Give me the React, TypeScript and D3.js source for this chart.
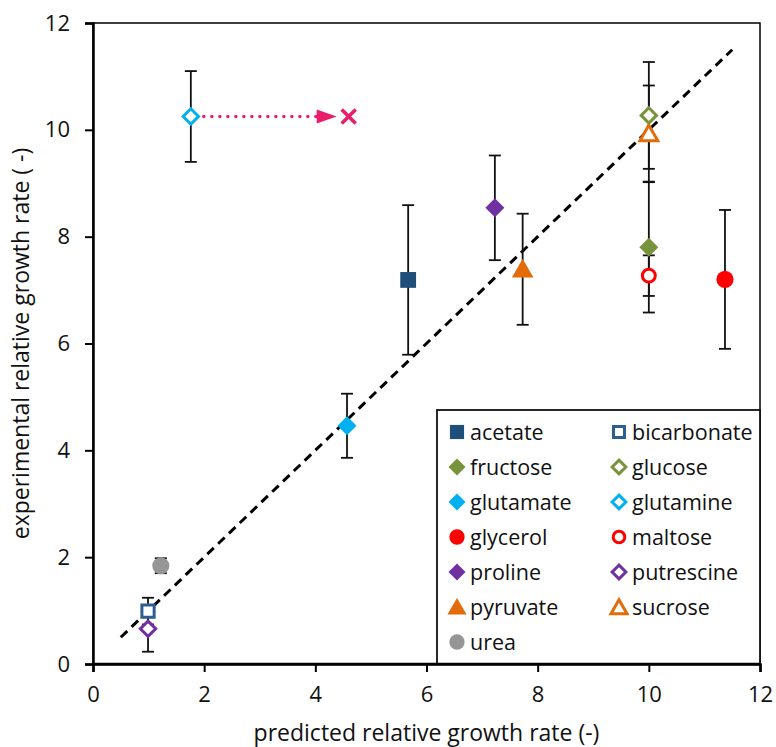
import React, { useEffect, useRef } from 'react';
import * as d3 from 'd3';

// carbon / nitrogen sources, in legend order
const sources = ['acetate', 'bicarbonate', 'fructose', 'glucose', 'glutamate', 'glutamine', 'glycerol', 'maltose', 'proline', 'putrescine', 'pyruvate', 'sucrose', 'urea'];
const predicted = [5.67, 0.99, 10.0, 10.0, 4.57, 1.76, 11.37, 10.0, 7.23, 0.99, 7.73, 10.0, 1.22];
const experimental = [7.19, 0.99, 7.8, 10.27, 4.46, 10.25, 7.2, 7.27, 8.54, 0.66, 7.39, 9.93, 1.84];
const errors = [1.4, 0.25, 1.22, 1.0, 0.6, 0.85, 1.3, 0.38, 0.98, 0.43, 1.04, 0.9, 0.14];
const shapes = ['square', 'square', 'diamond', 'diamond', 'diamond', 'diamond', 'circle', 'circle', 'diamond', 'diamond', 'triangle', 'triangle', 'circle'];
const filled = [true, false, true, false, true, false, true, false, true, false, true, false, true];
const colors = ['#1F4E79', '#2E5E8E', '#77933C', '#77933C', '#00B0F0', '#00B0F0', '#FF0000', '#FF0000', '#7030A0', '#7030A0', '#E36C09', '#E36C09', '#969696'];

// glutamine prediction after correction
const correctedGlutamine = { x: 4.6, y: 10.25 };
const parityLine = [0.5, 11.5];
const xTicks = [0, 2, 4, 6, 8, 10, 12];
const yTicks = [0, 2, 4, 6, 8, 10, 12];

const symbolFor = (shape: string) => {
  if (shape === 'square') return d3.symbolSquare;
  if (shape === 'circle') return d3.symbolCircle;
  if (shape === 'triangle') return d3.symbolTriangle;
  return d3.symbolDiamond2;
};
const sizeFor = (shape: string, isFilled: boolean) => {
  if (shape === 'square') return isFilled ? 250 : 150;
  if (shape === 'circle') return isFilled ? 230 : 130;
  if (shape === 'triangle') return isFilled ? 200 : 140;
  return isFilled ? 230 : 150;
};

const App = () => {
  const ref = useRef<SVGSVGElement | null>(null);

  useEffect(() => {
    if (!ref.current) return;
    document.body.style.margin = '0';
    const svg = d3.select(ref.current);
    svg.selectAll('*').remove();

    const left = 93, right = 760, top = 23, bottom = 664;
    const font = "'Open Sans', 'Noto Sans', sans-serif";

    const x = d3.scaleLinear().domain([0, 12]).range([left, right]);
    const y = d3.scaleLinear().domain([0, 12]).range([bottom, top]);

    svg.append('rect').attr('width', 776).attr('height', 747).attr('fill', '#fff');

    // frame
    svg
      .append('rect')
      .attr('x', left)
      .attr('y', top)
      .attr('width', right - left)
      .attr('height', bottom - top)
      .attr('fill', 'none')
      .attr('stroke', '#000')
      .attr('stroke-width', 1.5);

    // y axis
    const yAxis = svg
      .append('g')
      .attr('transform', `translate(${left},0)`)
      .call(d3.axisLeft(y).tickValues(yTicks).tickSize(8).tickPadding(15).tickFormat(d3.format('d')));
    yAxis.select('.domain').attr('stroke-width', 2.5);
    yAxis.selectAll('.tick line').attr('stroke-width', 2);
    yAxis.selectAll('text').style('font-size', '22px').style('font-family', font).attr('fill', '#111');

    // x axis
    const xAxis = svg
      .append('g')
      .attr('transform', `translate(0,${bottom})`)
      .call(d3.axisBottom(x).tickValues(xTicks).tickSize(8).tickPadding(14).tickFormat(d3.format('d')));
    xAxis.select('.domain').attr('stroke-width', 2.5);
    xAxis.selectAll('.tick line').attr('stroke-width', 2);
    xAxis.selectAll('text').style('font-size', '22px').style('font-family', font).attr('fill', '#111');

    // axis titles
    svg
      .append('text')
      .attr('x', (left + right) / 2)
      .attr('y', 741)
      .attr('text-anchor', 'middle')
      .style('font-size', '23px')
      .style('font-family', font)
      .attr('fill', '#111')
      .text('predicted relative growth rate (-)');
    svg
      .append('text')
      .attr('transform', `translate(29,${(top + bottom) / 2}) rotate(-90)`)
      .attr('text-anchor', 'middle')
      .style('font-size', '23px')
      .style('font-family', font)
      .attr('fill', '#111')
      .text('experimental relative growth rate ( -)');

    // parity line
    svg
      .append('line')
      .attr('x1', x(parityLine[0]))
      .attr('y1', y(parityLine[0]))
      .attr('x2', x(parityLine[1]))
      .attr('y2', y(parityLine[1]))
      .attr('stroke', '#000')
      .attr('stroke-width', 3)
      .attr('stroke-dasharray', '9 6');

    const data = sources.map((name, i) => ({
      name,
      px: predicted[i],
      ex: experimental[i],
      err: errors[i],
      shape: shapes[i],
      filled: filled[i],
      color: colors[i],
    }));

    // error bars
    const bars = svg.append('g').attr('stroke', '#111').attr('stroke-width', 1.8);
    data.forEach((d) => {
      const cx = x(d.px);
      bars.append('line').attr('x1', cx).attr('x2', cx).attr('y1', y(d.ex - d.err)).attr('y2', y(d.ex + d.err));
      [d.ex - d.err, d.ex + d.err].forEach((v) => {
        bars.append('line').attr('x1', cx - 6).attr('x2', cx + 6).attr('y1', y(v)).attr('y2', y(v));
      });
    });

    // dotted arrow from glutamine to its corrected prediction
    const gl = data[sources.indexOf('glutamine')];
    const ay = y(gl.ex);
    const tipX = x(correctedGlutamine.x) - 12;
    svg
      .append('line')
      .attr('x1', x(gl.px) + 13)
      .attr('x2', tipX - 16)
      .attr('y1', ay)
      .attr('y2', ay)
      .attr('stroke', '#EC1C6C')
      .attr('stroke-width', 3.5)
      .attr('stroke-linecap', 'round')
      .attr('stroke-dasharray', '0 8');
    svg
      .append('path')
      .attr('d', `M${tipX - 20},${ay - 7}L${tipX},${ay}L${tipX - 20},${ay + 7}Z`)
      .attr('fill', '#EC1C6C');
    const cxm = x(correctedGlutamine.x), cym = y(correctedGlutamine.y);
    svg
      .append('path')
      .attr('d', `M${cxm - 7},${cym - 7}L${cxm + 7},${cym + 7}M${cxm - 7},${cym + 7}L${cxm + 7},${cym - 7}`)
      .attr('stroke', '#EC1C6C')
      .attr('stroke-width', 3.5)
      .attr('fill', 'none');

    // markers
    const drawMarker = (g: any, d: any, cx: number, cy: number, scale = 1) => {
      const sym = d3.symbol().type(symbolFor(d.shape)).size(sizeFor(d.shape, d.filled) * scale);
      const dy = d.shape === 'triangle' ? 2 : 0;
      g.append('path')
        .attr('d', sym())
        .attr('transform', `translate(${cx},${cy + dy})`)
        .attr('fill', d.filled ? d.color : '#fff')
        .attr('stroke', d.color)
        .attr('stroke-width', d.filled ? 0 : 3);
    };
    const markers = svg.append('g');
    data.forEach((d) => drawMarker(markers, d, x(d.px), y(d.ex)));

    // legend
    const lx = 437, ly = 410;
    const legend = svg.append('g');
    legend
      .append('rect')
      .attr('x', lx)
      .attr('y', ly)
      .attr('width', right - lx)
      .attr('height', bottom - ly)
      .attr('fill', '#fff')
      .attr('stroke', '#111')
      .attr('stroke-width', 1.8);
    data.forEach((d, i) => {
      const col = i % 2, row = Math.floor(i / 2);
      const mx = lx + (col === 0 ? 20 : 182);
      const my = ly + 22 + row * 35;
      drawMarker(legend, d, mx, my, 0.8);
      legend
        .append('text')
        .attr('x', mx + 13)
        .attr('y', my)
        .attr('dy', '0.35em')
        .style('font-size', '21.5px')
        .style('font-family', font)
        .attr('fill', '#111')
        .text(d.name);
    });

    // redraw bottom axis line over legend edge
    svg
      .append('line')
      .attr('x1', left)
      .attr('x2', right)
      .attr('y1', bottom)
      .attr('y2', bottom)
      .attr('stroke', '#000')
      .attr('stroke-width', 2.5);
  }, []);

  return <svg ref={ref} width={776} height={747} style={{ display: 'block' }} />;
};

export default App;
